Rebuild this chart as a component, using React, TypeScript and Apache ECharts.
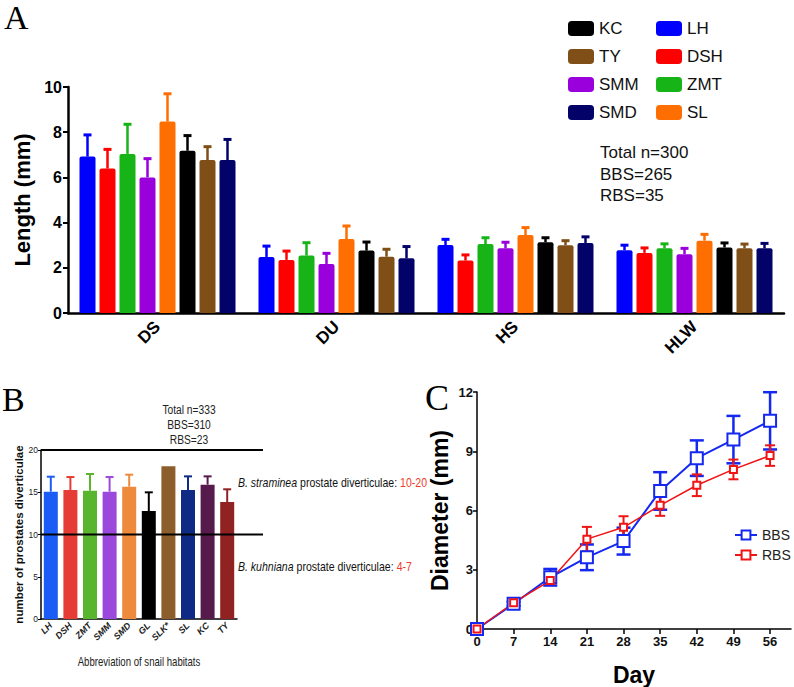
import React, { useEffect, useRef } from "react";
import * as echarts from "echarts";

// ---------- Panel A data ----------
const categoriesA = ["DS", "DU", "HS", "HLW"];
const habitatsA = ["LH", "DSH", "ZMT", "SMM", "SL", "KC", "TY", "SMD"];
const meanLH = [6.92, 2.48, 3.01, 2.78];
const sdLH = [0.96, 0.48, 0.25, 0.22];
const meanDSH = [6.39, 2.35, 2.32, 2.66];
const sdDSH = [0.85, 0.39, 0.25, 0.22];
const meanZMT = [7.04, 2.54, 3.05, 2.86];
const sdZMT = [1.31, 0.57, 0.28, 0.2];
const meanSMM = [6.0, 2.17, 2.86, 2.6];
const sdSMM = [0.83, 0.47, 0.27, 0.26];
const meanSL = [8.47, 3.27, 3.45, 3.2];
const sdSL = [1.23, 0.58, 0.33, 0.28];
const meanKC = [7.18, 2.76, 3.13, 2.9];
const sdKC = [0.67, 0.38, 0.2, 0.2];
const meanTY = [6.77, 2.49, 3.0, 2.86];
const sdTY = [0.59, 0.33, 0.2, 0.19];
const meanSMD = [6.77, 2.42, 3.1, 2.86];
const sdSMD = [0.91, 0.52, 0.27, 0.22];
const meansA = [meanLH, meanDSH, meanZMT, meanSMM, meanSL, meanKC, meanTY, meanSMD];
const sdsA = [sdLH, sdDSH, sdZMT, sdSMM, sdSL, sdKC, sdTY, sdSMD];
const legendColA1 = ["KC", "TY", "SMM", "SMD"];
const legendColA2 = ["LH", "DSH", "ZMT", "SL"];
const noteA = ["Total n=300", "BBS=265", "RBS=35"];

// ---------- Panel B data ----------
const habitatsB = ["LH", "DSH", "ZMT", "SMM", "SMD", "GL", "SLK*", "SL", "KC", "TY"];
const meanB = [15.07, 15.27, 15.19, 15.07, 15.66, 12.78, 18.07, 15.27, 15.9, 13.85];
const sdB = [1.77, 1.53, 1.97, 1.73, 1.42, 2.21, 0, 1.61, 0.98, 1.5];
const refLinesB = [10, 20];
const noteB = ["Total n=333", "BBS=310", "RBS=23"];
const speciesB = ["B. straminea", "B. kuhniana"];
const rangesB = ["10-20", "4-7"];
const xTitleB = "Abbreviation of snail habitats";

// ---------- Panel C data ----------
const days = [0, 7, 14, 21, 28, 35, 42, 49, 56];
const bbsMean = [0, 1.28, 2.62, 3.63, 4.45, 6.99, 8.65, 9.59, 10.54];
const bbsSd = [0, 0.1, 0.42, 0.65, 0.68, 0.95, 0.9, 1.2, 1.45];
const rbsMean = [0, 1.33, 2.45, 4.55, 5.15, 6.26, 7.28, 8.08, 8.78];
const rbsSd = [0, 0.1, 0.15, 0.62, 0.56, 0.53, 0.55, 0.5, 0.52];

// ---------- styles ----------
const colorsA: Record<string, string> = {
  LH: "#0000fe",
  DSH: "#fe0000",
  ZMT: "#17b417",
  SMM: "#9a00dc",
  SL: "#fe6e00",
  KC: "#000000",
  TY: "#7f4f17",
  SMD: "#020268",
};
const colorsB = ["#1a5cf5", "#e53d36", "#5ab52e", "#9b48dc", "#ee8a3c", "#000000", "#8b5e2b", "#0e2a85", "#561a4c", "#902222"];
const SANS = "'Liberation Sans', Arial, sans-serif";
const SERIF = "'Liberation Serif', 'Times New Roman', serif";

const BAR_W_A = 16;
const BAR_PITCH_A = 20;

export default function App() {
  const ref = useRef<HTMLDivElement>(null);
  useEffect(() => {
    if (!ref.current) return;
    const chart = echarts.init(ref.current, null, { renderer: "svg" });

    const nA = habitatsA.length;
    const barSeriesA = habitatsA.map((h, i) => ({
      type: "bar",
      name: h,
      xAxisIndex: 0,
      yAxisIndex: 0,
      data: meansA[i],
      barWidth: BAR_W_A,
      barGap: "25%",
      itemStyle: { color: colorsA[h], borderRadius: [2, 2, 0, 0] },
      z: 2,
    }));
    const errSeriesA = habitatsA.map((h, i) => ({
      type: "custom",
      name: h + "-err",
      xAxisIndex: 0,
      yAxisIndex: 0,
      z: 1,
      data: meansA[i].map((m, j) => [j, m, m + sdsA[i][j]]),
      renderItem: (params: any, api: any) => {
        const off = (i - (nA - 1) / 2) * BAR_PITCH_A;
        const x = api.coord([api.value(0), 0])[0] + off;
        const yb = api.coord([api.value(0), api.value(1)])[1];
        const yt = api.coord([api.value(0), api.value(2)])[1];
        return {
          type: "group",
          children: [
            { type: "line", shape: { x1: x, y1: yb, x2: x, y2: yt }, style: { stroke: colorsA[h], lineWidth: 2.5 } },
            { type: "line", shape: { x1: x - 4, y1: yt, x2: x + 4, y2: yt }, style: { stroke: colorsA[h], lineWidth: 3 } },
          ],
        };
      },
    }));

    const barB = {
      type: "bar",
      name: "prostates",
      xAxisIndex: 1,
      yAxisIndex: 1,
      barWidth: 14,
      data: meanB.map((v, i) => ({ value: v, itemStyle: { color: colorsB[i] } })),
      z: 2,
    };
    const errB = {
      type: "custom",
      name: "prostates-err",
      xAxisIndex: 1,
      yAxisIndex: 1,
      z: 1,
      data: meanB.map((m, j) => [j, m, m + sdB[j]]),
      renderItem: (params: any, api: any) => {
        const idx = api.value(0);
        const c = colorsB[idx];
        const x = api.coord([idx, 0])[0];
        const yb = api.coord([idx, api.value(1)])[1];
        const yt = api.coord([idx, api.value(2)])[1];
        if (api.value(2) <= api.value(1)) return { type: "group", children: [] };
        return {
          type: "group",
          children: [
            { type: "line", shape: { x1: x, y1: yb, x2: x, y2: yt }, style: { stroke: c, lineWidth: 2 } },
            { type: "line", shape: { x1: x - 4, y1: yt, x2: x + 4, y2: yt }, style: { stroke: c, lineWidth: 2 } },
          ],
        };
      },
    };
    const refB = {
      type: "custom",
      name: "ref-lines",
      xAxisIndex: 1,
      yAxisIndex: 1,
      z: 5,
      clip: false,
      data: refLinesB.map((v) => [0, v]),
      renderItem: (params: any, api: any) => {
        const cs = params.coordSys;
        const y = api.coord([0, api.value(1)])[1];
        return {
          type: "line",
          shape: { x1: cs.x, y1: y, x2: cs.x + cs.width + 26, y2: y },
          style: { stroke: "#000", lineWidth: 2 },
        };
      },
    };

    const mkErrC = (name: string, means: number[], sds: number[], color: string, cap: number, lw: number) => ({
      type: "custom",
      name: name + "-err",
      xAxisIndex: 2,
      yAxisIndex: 2,
      z: 1,
      clip: false,
      data: days.map((d, i) => [d, means[i] - sds[i], means[i] + sds[i]]),
      renderItem: (params: any, api: any) => {
        const x = api.coord([api.value(0), 0])[0];
        const yl = api.coord([api.value(0), api.value(1)])[1];
        const yh = api.coord([api.value(0), api.value(2)])[1];
        return {
          type: "group",
          children: [
            { type: "line", shape: { x1: x, y1: yl, x2: x, y2: yh }, style: { stroke: color, lineWidth: lw } },
            { type: "line", shape: { x1: x - cap / 2, y1: yh, x2: x + cap / 2, y2: yh }, style: { stroke: color, lineWidth: lw } },
            { type: "line", shape: { x1: x - cap / 2, y1: yl, x2: x + cap / 2, y2: yl }, style: { stroke: color, lineWidth: lw } },
          ],
        };
      },
    });

    const lineC = (name: string, means: number[], color: string, size: number, lw: number) => ({
      type: "line",
      name,
      xAxisIndex: 2,
      yAxisIndex: 2,
      z: 3,
      data: days.map((d, i) => [d, means[i]]),
      symbol: "emptyRect",
      symbolSize: size,
      lineStyle: { color, width: lw },
      itemStyle: { color, borderColor: color, borderWidth: lw + 0.5 },
    });

    const axisLineBlack = (w: number) => ({ lineStyle: { color: "#000", width: w } });

    const annY = [483, 567];
    const annTexts: any[] = speciesB.map((sp, k) => ({
      type: "text",
      x: 238,
      y: annY[k],
      scaleX: 0.81,
      z: 10,
      style: {
        text: `{i|${sp}} {n|prostate diverticulae:} {r|${rangesB[k]}}`,
        fontSize: 13,
        fontFamily: SANS,
        verticalAlign: "middle",
        fill: "#111",
        rich: {
          i: { fontStyle: "italic", fontSize: 13, fontFamily: SANS, fill: "#111" },
          n: { fontSize: 13, fontFamily: SANS, fill: "#111" },
          r: { fontSize: 13, fontFamily: SANS, fill: "#f03a2a" },
        },
      },
    }));

    const option: any = {
      animation: false,
      backgroundColor: "#fff",
      grid: [
        { left: 68, top: 87, width: 716, height: 226 },
        { left: 41, top: 450, width: 196, height: 169 },
        { left: 477, top: 392, width: 314, height: 246 },
      ],
      xAxis: [
        {
          type: "category",
          gridIndex: 0,
          data: categoriesA,
          axisLine: axisLineBlack(2.5),
          axisTick: { alignWithLabel: true, length: 6, lineStyle: { color: "#000", width: 2 } },
          axisLabel: { rotate: 45, fontSize: 17, fontWeight: "bold", fontFamily: SANS, color: "#000", margin: 11 },
        },
        {
          type: "category",
          gridIndex: 1,
          data: habitatsB,
          axisLine: axisLineBlack(1.5),
          axisTick: { alignWithLabel: true, length: 4, lineStyle: { color: "#000", width: 1 } },
          axisLabel: { rotate: 45, fontSize: 9, fontStyle: "italic", fontWeight: "bold", fontFamily: SANS, color: "#222", margin: 5 },
        },
        {
          type: "value",
          gridIndex: 2,
          min: 0,
          max: 60,
          interval: 7,
          splitLine: { show: false },
          axisLine: axisLineBlack(1.5),
          axisTick: { customValues: days, length: 5, lineStyle: { color: "#000", width: 1.5 } },
          axisLabel: { customValues: days, fontSize: 13, fontWeight: "bold", fontFamily: SANS, color: "#111", margin: 6 },
          name: "Day",
          nameLocation: "middle",
          nameGap: 34,
          nameTextStyle: { fontSize: 23, fontWeight: "bold", fontFamily: SANS, color: "#000" },
        },
      ],
      yAxis: [
        {
          type: "value",
          gridIndex: 0,
          min: 0,
          max: 10,
          interval: 2,
          splitLine: { show: false },
          axisLine: { show: true, lineStyle: { color: "#000", width: 2.5 } },
          axisTick: { show: true, length: 5, lineStyle: { color: "#000", width: 2 } },
          axisLabel: { fontSize: 16, fontWeight: "bold", fontFamily: SANS, color: "#000", margin: 6 },
          name: "Length (mm)",
          nameLocation: "middle",
          nameGap: 27,
          nameTextStyle: { fontSize: 22, fontWeight: "bold", fontFamily: SANS, color: "#000" },
        },
        {
          type: "value",
          gridIndex: 1,
          min: 0,
          max: 20,
          interval: 5,
          splitLine: { show: false },
          axisLine: { show: true, lineStyle: { color: "#000", width: 1.5 } },
          axisTick: { show: true, length: 3, lineStyle: { color: "#000", width: 1 } },
          axisLabel: { fontSize: 8.5, fontFamily: SANS, color: "#222", margin: 3 },
          name: "number of prostates diverticulae",
          nameLocation: "middle",
          nameGap: 11,
          nameTextStyle: { fontSize: 11.5, fontWeight: "bold", fontFamily: SANS, color: "#111" },
        },
        {
          type: "value",
          gridIndex: 2,
          min: 0,
          max: 12,
          interval: 3,
          splitLine: { show: false },
          axisLine: { show: true, lineStyle: { color: "#000", width: 1.5 } },
          axisTick: { show: true, length: 4, lineStyle: { color: "#000", width: 1.5 } },
          axisLabel: { fontSize: 13, fontWeight: "bold", fontFamily: SANS, color: "#111", margin: 4 },
          name: "Diameter (mm)",
          nameLocation: "middle",
          nameGap: 26,
          nameTextStyle: { fontSize: 23, fontWeight: "bold", fontFamily: SANS, color: "#000" },
        },
      ],
      legend: [
        {
          orient: "vertical",
          left: 563,
          top: 15,
          itemWidth: 26,
          itemHeight: 15,
          itemGap: 11,
          icon: "roundRect",
          data: legendColA1,
          textStyle: { fontSize: 17, fontFamily: SANS, color: "#111" },
          selectedMode: false,
        },
        {
          orient: "vertical",
          left: 651,
          top: 15,
          itemWidth: 26,
          itemHeight: 15,
          itemGap: 11,
          icon: "roundRect",
          data: legendColA2,
          textStyle: { fontSize: 17, fontFamily: SANS, color: "#111" },
          selectedMode: false,
        },
        {
          orient: "vertical",
          left: 729,
          top: 523,
          itemWidth: 22,
          itemHeight: 11,
          itemGap: 6,
          data: ["BBS", "RBS"],
          textStyle: { fontSize: 14, fontFamily: SANS, color: "#222" },
          selectedMode: false,
        },
      ],
      graphic: [
        { type: "text", left: 4, top: 0, style: { text: "A", font: `34px ${SERIF}`, fill: "#000" } },
        { type: "text", left: 2, top: 382, style: { text: "B", font: `34px ${SERIF}`, fill: "#000" } },
        { type: "text", left: 425, top: 380, style: { text: "C", font: `36px ${SERIF}`, fill: "#000" } },
        {
          type: "text",
          left: 600,
          top: 142,
          style: { text: noteA.join("\n"), font: `17px ${SANS}`, lineHeight: 21.5, fill: "#111" },
        },
        {
          type: "text",
          x: 189,
          y: 402,
          scaleX: 0.82,
          style: { text: noteB.join("\n"), font: `12.5px ${SANS}`, lineHeight: 15, fill: "#222", align: "center" },
        },
        {
          type: "text",
          x: 139,
          y: 662,
          scaleX: 0.8,
          style: { text: xTitleB, font: `12px ${SANS}`, fill: "#222", align: "center", verticalAlign: "middle" },
        },
        ...annTexts,
      ],
      series: [
        ...errSeriesA,
        ...barSeriesA,
        errB,
        barB,
        refB,
        mkErrC("BBS", bbsMean, bbsSd, "#1428f0", 14, 2.5),
        mkErrC("RBS", rbsMean, rbsSd, "#f01414", 10, 2),
        lineC("BBS", bbsMean, "#1428f0", 12, 2),
        lineC("RBS", rbsMean, "#f01414", 7, 1.5),
      ],
    };
    chart.setOption(option);
    return () => chart.dispose();
  }, []);
  return (
    <div
      ref={ref}
      style={{ position: "fixed", left: 0, top: 0, width: 794, height: 687, background: "#fff" }}
    />
  );
}
